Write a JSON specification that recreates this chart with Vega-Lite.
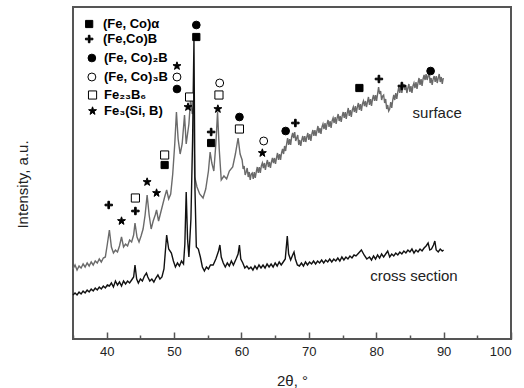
{
  "$schema": "https://vega.github.io/schema/vega-lite/v6.json",
  "width": 438,
  "height": 332,
  "autosize": {"type": "none"},
  "padding": {"left": 73, "top": 7, "right": 13, "bottom": 49},
  "background": "white",
  "config": {"view": {"stroke": "#555", "strokeWidth": 2}},
  "datasets": {
    "surf": [
      {"x":35.0,"y":70},{"x":35.3,"y":74},{"x":35.6,"y":69},{"x":35.9,"y":73},{"x":36.2,"y":71},{"x":36.5,"y":75},{"x":36.8,"y":72},{"x":37.1,"y":76},{"x":37.4,"y":73},{"x":37.7,"y":77},{"x":38.0,"y":74},{"x":38.3,"y":78},{"x":38.6,"y":76},{"x":38.9,"y":80},{"x":39.2,"y":77},{"x":39.5,"y":81},{"x":39.8,"y":82},{"x":40.1,"y":95},{"x":40.4,"y":109},{"x":40.7,"y":92},{"x":41.0,"y":86},{"x":41.3,"y":89},{"x":41.6,"y":87},{"x":41.9,"y":93},{"x":42.2,"y":102},{"x":42.5,"y":92},{"x":42.8,"y":95},{"x":43.1,"y":93},{"x":43.4,"y":99},{"x":43.7,"y":97},{"x":44.0,"y":104},{"x":44.2,"y":116},{"x":44.5,"y":102},{"x":44.8,"y":97},{"x":45.1,"y":103},{"x":45.4,"y":110},{"x":45.7,"y":124},{"x":46.0,"y":144},{"x":46.3,"y":124},{"x":46.6,"y":110},{"x":46.9,"y":118},{"x":47.2,"y":124},{"x":47.4,"y":129},{"x":47.7,"y":118},{"x":48.0,"y":126},{"x":48.3,"y":134},{"x":48.6,"y":142},{"x":48.9,"y":149},{"x":49.2,"y":140},{"x":49.5,"y":145},{"x":49.8,"y":165},{"x":50.1,"y":195},{"x":50.35,"y":227},{"x":50.6,"y":200},{"x":50.9,"y":185},{"x":51.2,"y":195},{"x":51.55,"y":224},{"x":51.8,"y":195},{"x":52.0,"y":205},{"x":52.2,"y":215},{"x":52.45,"y":240},{"x":52.7,"y":225},{"x":52.9,"y":232},{"x":53.06,"y":162},{"x":53.4,"y":152},{"x":53.8,"y":145},{"x":54.3,"y":141},{"x":54.7,"y":150},{"x":55.1,"y":168},{"x":55.35,"y":187},{"x":55.6,"y":176},{"x":55.9,"y":168},{"x":56.2,"y":195},{"x":56.45,"y":227},{"x":56.7,"y":190},{"x":57.0,"y":159},{"x":57.4,"y":163},{"x":57.8,"y":160},{"x":58.2,"y":168},{"x":58.7,"y":172},{"x":59.1,"y":185},{"x":59.5,"y":201},{"x":59.8,"y":185},
      {"x":60.1,"y":179},{"x":60.25,"y":170},{"x":60.4,"y":173},{"x":60.55,"y":164},{"x":60.7,"y":167},{"x":60.85,"y":171},{"x":61.0,"y":162},{"x":61.15,"y":167},{"x":61.3,"y":159},{"x":61.45,"y":165},{"x":61.6,"y":166},{"x":61.75,"y":160},{"x":61.9,"y":167},{"x":62.05,"y":161},{"x":62.2,"y":167},{"x":62.35,"y":172},{"x":62.5,"y":166},{"x":62.65,"y":172},{"x":62.8,"y":166},{"x":62.95,"y":173},{"x":63.1,"y":176},{"x":63.25,"y":171},{"x":63.4,"y":176},{"x":63.55,"y":169},{"x":63.7,"y":175},{"x":63.85,"y":179},{"x":64.0,"y":172},{"x":64.15,"y":177},{"x":64.3,"y":171},{"x":64.45,"y":177},{"x":64.6,"y":181},{"x":64.75,"y":176},{"x":64.9,"y":181},{"x":65.05,"y":175},{"x":65.2,"y":181},{"x":65.35,"y":186},{"x":65.5,"y":179},{"x":65.65,"y":185},{"x":65.8,"y":179},{"x":65.95,"y":186},{"x":66.1,"y":190},{"x":66.25,"y":185},{"x":66.4,"y":193},{"x":66.55,"y":188},{"x":66.7,"y":195},{"x":66.85,"y":201},{"x":67.0,"y":194},{"x":67.15,"y":200},{"x":67.3,"y":194},{"x":67.45,"y":202},{"x":67.6,"y":206},{"x":67.75,"y":201},{"x":67.9,"y":207},{"x":68.05,"y":198},{"x":68.2,"y":201},{"x":68.35,"y":204},{"x":68.5,"y":194},{"x":68.65,"y":199},{"x":68.8,"y":193},{"x":68.95,"y":199},{"x":69.1,"y":203},{"x":69.25,"y":197},{"x":69.4,"y":203},{"x":69.55,"y":197},{"x":69.7,"y":202},{"x":69.85,"y":206},{"x":70.0,"y":199},{"x":70.15,"y":205},{"x":70.3,"y":198},{"x":70.45,"y":205},{"x":70.6,"y":209},{"x":70.75,"y":203},{"x":70.9,"y":209},{"x":71.05,"y":203},{"x":71.2,"y":208},{"x":71.35,"y":213},{"x":71.5,"y":206},{"x":71.65,"y":211},{"x":71.8,"y":205},{"x":71.95,"y":212},{"x":72.1,"y":215},{"x":72.25,"y":210},{"x":72.4,"y":216},{"x":72.55,"y":209},{"x":72.7,"y":215},{"x":72.85,"y":219},{"x":73.0,"y":212},{"x":73.15,"y":218},{"x":73.3,"y":211},{"x":73.45,"y":218},{"x":73.6,"y":221},{"x":73.75,"y":216},{"x":73.9,"y":222},{"x":74.05,"y":215},{"x":74.2,"y":221},{"x":74.35,"y":225},{"x":74.5,"y":218},{"x":74.65,"y":223},{"x":74.8,"y":217},{"x":74.95,"y":223},{"x":75.1,"y":227},{"x":75.25,"y":221},{"x":75.4,"y":227},{"x":75.55,"y":220},{"x":75.7,"y":226},{"x":75.85,"y":231},{"x":76.0,"y":223},{"x":76.15,"y":229},{"x":76.3,"y":222},{"x":76.45,"y":229},{"x":76.6,"y":232},{"x":76.75,"y":227},{"x":76.9,"y":233},{"x":77.05,"y":226},{"x":77.2,"y":232},{"x":77.35,"y":236},{"x":77.5,"y":229},{"x":77.65,"y":235},{"x":77.8,"y":228},{"x":77.95,"y":235},{"x":78.1,"y":238},{"x":78.25,"y":233},{"x":78.4,"y":238},{"x":78.55,"y":232},{"x":78.7,"y":237},{"x":78.85,"y":242},{"x":79.0,"y":234},{"x":79.15,"y":240},{"x":79.3,"y":233},{"x":79.45,"y":240},{"x":79.6,"y":244},{"x":79.75,"y":238},{"x":79.9,"y":244},{"x":80.05,"y":238},{"x":80.2,"y":245},{"x":80.35,"y":252},{"x":80.5,"y":245},{"x":80.65,"y":248},{"x":80.8,"y":239},{"x":80.95,"y":243},{"x":81.1,"y":244},{"x":81.25,"y":236},{"x":81.4,"y":240},{"x":81.55,"y":230},{"x":81.7,"y":234},{"x":81.85,"y":228},{"x":82.0,"y":230},{"x":82.15,"y":237},{"x":82.3,"y":231},{"x":82.45,"y":239},{"x":82.6,"y":244},{"x":82.75,"y":239},{"x":82.9,"y":246},{"x":83.05,"y":240},{"x":83.2,"y":247},{"x":83.35,"y":252},{"x":83.5,"y":246},{"x":83.65,"y":253},{"x":83.8,"y":246},{"x":83.95,"y":252},{"x":84.1,"y":255},{"x":84.25,"y":249},{"x":84.4,"y":254},{"x":84.55,"y":246},{"x":84.7,"y":251},{"x":84.85,"y":255},{"x":85.0,"y":247},{"x":85.15,"y":253},{"x":85.3,"y":246},{"x":85.45,"y":253},{"x":85.6,"y":256},{"x":85.75,"y":251},{"x":85.9,"y":257},{"x":86.05,"y":250},{"x":86.2,"y":256},{"x":86.35,"y":261},{"x":86.5,"y":254},{"x":86.65,"y":260},{"x":86.8,"y":253},{"x":86.95,"y":260},{"x":87.1,"y":264},{"x":87.25,"y":259},{"x":87.4,"y":265},{"x":87.55,"y":259},{"x":87.7,"y":263},{"x":87.85,"y":266},{"x":88.0,"y":256},{"x":88.15,"y":261},{"x":88.3,"y":254},{"x":88.45,"y":260},{"x":88.6,"y":263},{"x":88.75,"y":257},{"x":88.9,"y":263},{"x":89.05,"y":256},{"x":89.2,"y":261},{"x":89.35,"y":265},{"x":89.5,"y":257},{"x":89.65,"y":262},{"x":89.8,"y":255},{"x":89.95,"y":261}
    ],
    "cross": [
      {"x":35.0,"y":44},{"x":35.3,"y":46},{"x":35.6,"y":44},{"x":35.9,"y":47},{"x":36.2,"y":45},{"x":36.5,"y":48},{"x":36.8,"y":46},{"x":37.1,"y":49},{"x":37.4,"y":47},{"x":37.7,"y":50},{"x":38.0,"y":48},{"x":38.3,"y":51},{"x":38.6,"y":49},{"x":38.9,"y":52},{"x":39.2,"y":50},{"x":39.5,"y":53},{"x":39.8,"y":51},{"x":40.1,"y":54},{"x":40.4,"y":53},{"x":40.7,"y":56},{"x":41.0,"y":52},{"x":41.3,"y":58},{"x":41.6,"y":54},{"x":41.9,"y":57},{"x":42.2,"y":53},{"x":42.5,"y":58},{"x":42.8,"y":55},{"x":43.1,"y":58},{"x":43.4,"y":56},{"x":43.7,"y":59},{"x":44.0,"y":62},{"x":44.2,"y":74},{"x":44.45,"y":60},{"x":44.7,"y":56},{"x":45.0,"y":60},{"x":45.3,"y":58},{"x":45.6,"y":63},{"x":45.9,"y":66},{"x":46.1,"y":62},{"x":46.4,"y":58},{"x":46.7,"y":60},{"x":47.0,"y":57},{"x":47.3,"y":61},{"x":47.6,"y":64},{"x":47.9,"y":60},{"x":48.2,"y":62},{"x":48.5,"y":70},{"x":48.9,"y":104},{"x":49.2,"y":90},{"x":49.6,"y":86},{"x":49.9,"y":78},{"x":50.2,"y":72},{"x":50.5,"y":76},{"x":50.8,"y":73},{"x":51.1,"y":78},{"x":51.4,"y":75},{"x":51.6,"y":95},{"x":51.8,"y":147},{"x":52.0,"y":100},{"x":52.2,"y":82},{"x":52.5,"y":120},{"x":52.75,"y":200},{"x":52.95,"y":299},{"x":53.1,"y":150},{"x":53.3,"y":92},{"x":53.6,"y":90},{"x":53.9,"y":82},{"x":54.2,"y":72},{"x":54.5,"y":68},{"x":54.8,"y":72},{"x":55.1,"y":70},{"x":55.4,"y":74},{"x":55.8,"y":74},{"x":56.2,"y":80},{"x":56.6,"y":88},{"x":56.8,"y":94},{"x":57.0,"y":82},{"x":57.3,"y":76},{"x":57.6,"y":72},{"x":57.9,"y":76},{"x":58.2,"y":73},{"x":58.5,"y":78},{"x":58.8,"y":74},{"x":59.2,"y":80},{"x":59.5,"y":85},{"x":59.7,"y":94},{"x":59.9,"y":80},{"x":60.2,"y":76},{"x":60.5,"y":71},{"x":60.8,"y":73},{"x":61.1,"y":70},{"x":61.4,"y":72},{"x":61.7,"y":69},{"x":62.0,"y":73},{"x":62.3,"y":70},{"x":62.6,"y":74},{"x":62.9,"y":71},{"x":63.2,"y":74},{"x":63.5,"y":71},{"x":63.8,"y":75},{"x":64.1,"y":72},{"x":64.4,"y":75},{"x":64.7,"y":72},{"x":65.0,"y":76},{"x":65.3,"y":73},{"x":65.6,"y":77},{"x":65.9,"y":74},{"x":66.2,"y":77},{"x":66.5,"y":80},{"x":66.8,"y":103},{"x":67.0,"y":85},{"x":67.3,"y":79},{"x":67.6,"y":84},{"x":67.8,"y":87},{"x":68.0,"y":80},{"x":68.3,"y":74},{"x":68.6,"y":73},{"x":68.9,"y":76},{"x":69.2,"y":73},{"x":69.5,"y":77},{"x":69.8,"y":74},{"x":70.1,"y":77},{"x":70.4,"y":75},{"x":70.7,"y":78},{"x":71.0,"y":75},{"x":71.3,"y":78},{"x":71.6,"y":76},{"x":71.9,"y":79},{"x":72.2,"y":76},{"x":72.5,"y":79},{"x":72.8,"y":77},{"x":73.1,"y":80},{"x":73.4,"y":77},{"x":73.7,"y":80},{"x":74.0,"y":78},{"x":74.3,"y":81},{"x":74.6,"y":78},{"x":74.9,"y":82},{"x":75.2,"y":79},{"x":75.5,"y":82},{"x":75.8,"y":80},{"x":76.1,"y":83},{"x":76.4,"y":81},{"x":76.7,"y":84},{"x":77.0,"y":83},{"x":77.4,"y":86},{"x":77.8,"y":89},{"x":78.2,"y":84},{"x":78.6,"y":80},{"x":79.0,"y":82},{"x":79.3,"y":79},{"x":79.6,"y":83},{"x":79.9,"y":80},{"x":80.2,"y":84},{"x":80.5,"y":81},{"x":80.8,"y":85},{"x":81.1,"y":82},{"x":81.4,"y":85},{"x":81.7,"y":88},{"x":82.0,"y":82},{"x":82.3,"y":85},{"x":82.6,"y":83},{"x":82.9,"y":86},{"x":83.2,"y":84},{"x":83.5,"y":87},{"x":83.8,"y":85},{"x":84.1,"y":88},{"x":84.4,"y":86},{"x":84.7,"y":89},{"x":85.0,"y":87},{"x":85.3,"y":90},{"x":85.6,"y":86},{"x":85.9,"y":89},{"x":86.2,"y":87},{"x":86.5,"y":90},{"x":86.8,"y":88},{"x":87.1,"y":91},{"x":87.4,"y":93},{"x":87.7,"y":96},{"x":87.95,"y":89},{"x":88.2,"y":90},{"x":88.5,"y":94},{"x":88.7,"y":98},{"x":88.9,"y":89},{"x":89.2,"y":87},{"x":89.5,"y":90},{"x":89.8,"y":88},{"x":90.0,"y":89}
    ],
    "marks": [
      {"x":37.4,"y":315,"k":"fsq"},{"x":37.4,"y":300,"k":"plus"},{"x":37.8,"y":281,"k":"fc"},{"x":37.8,"y":262,"k":"oc"},{"x":37.9,"y":244,"k":"osq"},{"x":37.9,"y":228,"k":"star"},
      {"x":53.3,"y":314,"k":"fc"},{"x":53.3,"y":302,"k":"fsq"},
      {"x":50.43,"y":273,"k":"star"},{"x":50.43,"y":262,"k":"oc"},{"x":50.43,"y":250,"k":"fc"},
      {"x":52.3,"y":242,"k":"osq"},{"x":52.07,"y":232,"k":"star"},
      {"x":56.77,"y":256,"k":"oc"},{"x":56.66,"y":244,"k":"osq"},{"x":56.5,"y":230,"k":"star"},
      {"x":59.7,"y":222,"k":"fc"},{"x":59.7,"y":210,"k":"osq"},
      {"x":55.5,"y":207,"k":"plus"},{"x":55.5,"y":196,"k":"fsq"},
      {"x":48.6,"y":184,"k":"osq"},{"x":48.6,"y":174,"k":"fsq"},
      {"x":46.0,"y":157,"k":"star"},{"x":47.4,"y":146,"k":"star"},
      {"x":44.26,"y":141,"k":"osq"},{"x":44.26,"y":128,"k":"plus"},
      {"x":40.3,"y":134,"k":"plus"},{"x":42.2,"y":118,"k":"star"},
      {"x":63.3,"y":198,"k":"oc"},{"x":63.1,"y":186,"k":"star"},
      {"x":66.56,"y":208,"k":"fc"},{"x":68.0,"y":216,"k":"plus"},
      {"x":77.5,"y":251,"k":"fsq"},{"x":80.4,"y":260,"k":"plus"},{"x":83.8,"y":253,"k":"plus"},{"x":88.07,"y":268,"k":"fc"}
    ],
    "legendtext": [
      {"x":39.45,"y":315,"t":"(Fe, Co)α"},
      {"x":39.45,"y":300,"t":"(Fe,Co)B"},
      {"x":39.6,"y":281,"t":"(Fe, Co)₂B"},
      {"x":39.6,"y":262,"t":"(Fe, Co)₃B"},
      {"x":39.6,"y":244,"t":"Fe₂₃B₆"},
      {"x":39.6,"y":228,"t":"Fe₃(Si, B)"}
    ],
    "tracetext": [
      {"x":85.4,"y":226,"t":"surface"},
      {"x":79.1,"y":63,"t":"cross section"}
    ]
  },
  "encoding": {
    "x": {
      "field": "x", "type": "quantitative",
      "scale": {"domain": [35, 100], "nice": false, "zero": false},
      "axis": {
        "values": [35,40,45,50,55,60,65,70,75,80,85,90,95,100],
        "labelExpr": "datum.value % 10 === 0 ? datum.label : ''",
        "tickSize": {"condition": {"test": "datum.value % 10 === 0", "value": -7}, "value": -4},
        "tickColor": "#555", "tickWidth": 1.5,
        "domain": false, "grid": false,
        "labelFont": "Liberation Sans", "labelFontSize": 13, "labelColor": "#222", "labelPadding": 13,
        "title": "2θ, °", "titleFont": "Liberation Sans", "titleFontSize": 15, "titleFontWeight": "normal", "titleColor": "#222", "titlePadding": 15
      }
    },
    "y": {
      "field": "y", "type": "quantitative",
      "scale": {"domain": [0, 332], "nice": false, "zero": false},
      "axis": {
        "title": "Intensity, a.u.", "labels": false, "ticks": false, "domain": false, "grid": false,
        "titleFont": "Liberation Sans", "titleFontSize": 15, "titleFontWeight": "normal", "titleColor": "#222",
        "titleX": -51, "titleY": 177, "titleAlign": "center", "titleBaseline": "middle", "titleAngle": 270
      }
    }
  },
  "layer": [
    {"data": {"name": "surf"}, "mark": {"type": "line", "color": "#6a6a6a", "strokeWidth": 1.4}},
    {"data": {"name": "cross"}, "mark": {"type": "line", "color": "#111", "strokeWidth": 1.4}},
    {
      "data": {"name": "marks"},
      "mark": {"type": "point", "stroke": "black", "strokeWidth": 1, "opacity": 1, "filled": false},
      "encoding": {
        "shape": {"field": "k", "type": "nominal", "legend": null,
          "scale": {"domain": ["fsq","plus","fc","oc","osq","star"],
            "range": ["square", "M-1,-0.22H-0.22V-1H0.22V-0.22H1V0.22H0.22V1H-0.22V0.22H-1Z", "circle", "circle", "square", "M0,-1L0.235,-0.324L0.951,-0.309L0.38,0.124L0.588,0.809L0,0.4L-0.588,0.809L-0.38,0.124L-0.951,-0.309L-0.235,-0.324Z"]}},
        "fill": {"field": "k", "type": "nominal", "legend": null,
          "scale": {"domain": ["fsq","plus","fc","oc","osq","star"], "range": ["#000","#000","#000","#fff","#fff","#000"]}},
        "size": {"field": "k", "type": "nominal", "legend": null,
          "scale": {"domain": ["fsq","plus","fc","oc","osq","star"], "range": [52, 70, 60, 56, 52, 40]}}
      }
    },
    {
      "data": {"name": "legendtext"},
      "mark": {"type": "text", "align": "left", "baseline": "middle", "font": "Liberation Sans", "fontSize": 13, "fontWeight": "bold", "color": "#000"},
      "encoding": {"text": {"field": "t", "type": "nominal"}}
    },
    {
      "data": {"name": "tracetext"},
      "mark": {"type": "text", "align": "left", "baseline": "middle", "font": "Liberation Sans", "fontSize": 15, "color": "#222"},
      "encoding": {"text": {"field": "t", "type": "nominal"}}
    }
  ]
}
